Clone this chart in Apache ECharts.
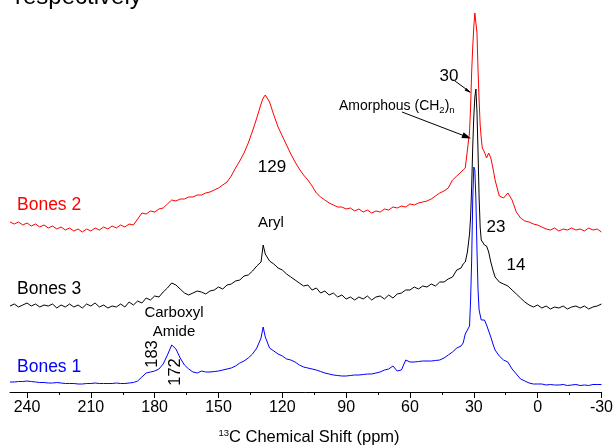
<!DOCTYPE html>
<html>
<head>
<meta charset="utf-8">
<script src="https://cdn.jsdelivr.net/npm/echarts@6/dist/echarts.min.js"></script>
<style>
html,body{margin:0;padding:0;background:#fff;overflow:hidden;}
#chart{width:616px;height:447px;}
</style>
</head>
<body>
<div id="chart"></div>
<script>
// Chemical shift grid (ppm)
var shiftPpm = [
 248,246,244,242,240,238,236,234,232,230,228,226,224,222,220,218,216,214,212,210,
 208,206,204,202,200,198,196,194,192,190,188,186,184,182,180,178,176,174,172,170,
 168,166,164,162,160,158,156,154,152,150,148,146,144,142,140,138,136,134,132,130,
 129,128,126,124,122,120,118,116,114,112,110,108,106,104,102,100,98,96,94,92,
 90,88,86,84,82,80,78,76,74,72,70,68,66,64,62,60,58,56,54,52,
 50,48,46,44,42,
 40,38,36,35,34,33,32,31.5,31,30.5,30,29.5,29,28.5,28,27.5,27,26.5,26,25,24,23,22,21,20,
 18,16,14,12,10,8,6,4,2,0,-2,-4,-6,-8,-10,-12,-14,-16,-18,-20,-22,-24,-26,-28,-30
];
// Bones 1 intensity (blue)
var bones1 = [
 10,10,10.5,10.5,11,10.5,10,9.5,9.5,9,9,9.5,9,8.5,8.5,8.5,8,8,8.5,8.5,
 9,8.5,8.5,8.5,8.5,9,8.5,8.5,9,9.5,11,15,19,20,21,23,28,37,47,43,
 34,27,23,20,19,21,20,20,20.5,21,22,23,24,26,29,31,34,38,44,54,
 65,55,44,41,38,36,33,32,30,27,25,24,23,22,20.5,19,18,17,16.5,16,
 16,16.5,17,17,17.5,18,18,19,20,22,23,26,21,22,32,30,30,30.5,31,31,
 31,31.5,32,34,37,
 40,44,46,49,58,62,66,92,132,192,225,222,192,142,102,82,77,72,70,72,67,61,55,48,42,
 36,32,30,23,18,13,11,9,8,8,8,7,7.5,7,7,7.5,6.5,7,7.5,6.5,7,6.5,7.5,7.5,7.5
];
// Bones 3 intensity (black)
var bones3 = [
 6,8,5,7,9,6,8,5,7,6,8,4,7,5,8,5,7,4,8,6,
 9,5,7,4,6,5,8,5,10,7,11,9,14,12,16,15,20,24,29,27,
 23,19,17,19,21,20,18,21,22,25,23,27,28,31,32,36,37,41,46,50,
 67,58,51,48,44,42,38,35,32,29,26,27,22,24,19,21,17,19,15,17,
 13,15,12,15,13,16,12,15,16,13,17,14,18,19,22,22,25,23,26,25,
 28,26,30,30,33,
 35,42,44,48,50,60,78,95,125,165,195,215,223,200,160,115,85,72,70,67,66,60,50,42,35,
 30,28,26,22,18,14,10,7,5,7,4,6,3,5,4,6,3,5,6,4,6,3,5,6,8
];
// Bones 2 intensity (red)
var bones2 = [
 10,8,10,7,9,6,8,5,7,4,6,3,5,2,4,1,3,0,3,1,
 4,2,5,3,6,4,7,5,8,7,13,19,18,21,20,23,24,28,32,31,
 33,33,35,35,37,37,39,40,42,44,47,50,56,64,71,79,89,101,114,128,
 134,137,130,117,105,96,87,78,70,63,57,52,46,39,35,32,29,27,25,25,
 23,24,21,23,20,22,19,21,20,23,22,25,24,26,25,28,27,29,30,31,
 33,36,39,41,44,
 52,56,60,62,64,82,100,125,160,185,205,219,217,199,162,132,107,94,84,80,74,79,74,64,52,
 36,34,39,32,20,14,11,10,8,7,5,3,2,4,1,3,2,4,2,3,1,4,2,3,0
];
var traceNames = ['Bones 2', 'Bones 3', 'Bones 1'];
var traceColors = ['#ff0000', '#000000', '#0000ff'];
var traceOffsets = [160, 80, 0];
var majorTicks = [240,210,180,150,120,90,60,30,0,-30];
var minorTicks = [225,195,165,135,105,75,45,15,-15];

var FONT = '"Liberation Sans", Arial, Helvetica, sans-serif';
var traces = [bones2, bones3, bones1];

function build(vals, off) {
  return shiftPpm.map(function (p, i) { return [p, vals[i] + off]; });
}

var chart = echarts.init(document.getElementById('chart'), null, {renderer: 'canvas'});

var series = traces.map(function (vals, k) {
  return {
    name: traceNames[k],
    type: 'line',
    xAxisIndex: 0,
    data: build(vals, traceOffsets[k]),
    showSymbol: false,
    symbol: 'none',
    lineStyle: {color: traceColors[k], width: 1},
    itemStyle: {color: traceColors[k]},
    z: 2 + k,
    silent: true
  };
});

function txt(text, x, y, opts) {
  opts = opts || {};
  return {
    type: 'text',
    x: x, y: y,
    rotation: opts.rotation || 0,
    z: 100,
    style: {
      text: text,
      fill: opts.color || '#000',
      font: (opts.size || 16) + 'px ' + FONT,
      align: opts.align || 'center',
      verticalAlign: opts.valign || 'middle'
    }
  };
}

var graphics = [
  txt('respectively', 15, 9, {size: 24, align: 'left', valign: 'bottom'}),
  txt('Bones 2', 17, 205, {size: 17.5, align: 'left', color: '#ff0000'}),
  txt('Bones 3', 17, 289, {size: 17.5, align: 'left'}),
  txt('Bones 1', 17, 367, {size: 17.5, align: 'left', color: '#0000ff'}),
  txt('Carboxyl', 174, 313, {size: 15}),
  txt('Amide', 174, 332, {size: 15}),
  txt('183', 152, 354, {size: 16.5, rotation: Math.PI / 2}),
  txt('172', 175, 372, {size: 16.5, rotation: Math.PI / 2}),
  txt('Aryl', 271, 223, {size: 15}),
  txt('129', 272, 167, {size: 17}),
  txt('30', 449, 76, {size: 17}),
  txt('23', 496, 227, {size: 17}),
  txt('14', 516, 265, {size: 17}),
  {
    type: 'text', x: 339, y: 107, z: 100,
    style: {
      text: '{m|Amorphous (CH}{s|2}{m|)}{s|n}',
      align: 'left', verticalAlign: 'middle', fill: '#000',
      rich: {
        m: {fontSize: 14, fontFamily: FONT, fill: '#000', verticalAlign: 'top', lineHeight: 16},
        s: {fontSize: 9.5, fontFamily: FONT, fill: '#000', verticalAlign: 'bottom', lineHeight: 10, padding: [8, 0, 0, 0]}
      }
    }
  },
  {
    type: 'text', x: 309, y: 437, z: 100,
    style: {
      text: '{s|13}{m|C Chemical Shift (ppm)}',
      align: 'center', verticalAlign: 'middle', fill: '#000',
      rich: {
        s: {fontSize: 9.5, fontFamily: FONT, fill: '#000', verticalAlign: 'top', lineHeight: 10},
        m: {fontSize: 16.5, fontFamily: FONT, fill: '#000', verticalAlign: 'bottom', lineHeight: 18}
      }
    }
  },
  // arrow from "30"
  {type: 'line', z: 100, shape: {x1: 455, y1: 81, x2: 470, y2: 92}, style: {stroke: '#000', lineWidth: 1}},
  {type: 'polygon', z: 100, shape: {points: [[471, 93], [464.6, 90.4], [466.4, 87.9]]}, style: {fill: '#000'}},
  // arrow from Amorphous
  {type: 'line', z: 100, shape: {x1: 402, y1: 112, x2: 466, y2: 136.5}, style: {stroke: '#000', lineWidth: 1}},
  {type: 'polygon', z: 100, shape: {points: [[471, 138.5], [461.4, 137.9], [463.6, 132.3]]}, style: {fill: '#000'}}
];

chart.setOption({
  animation: false,
  backgroundColor: '#fff',
  grid: {left: 10, right: 10, top: 0, bottom: 55, containLabel: false},
  xAxis: [{
    type: 'value', min: -30, max: 248, interval: 30, inverse: true, position: 'bottom',
    axisLine: {show: true, lineStyle: {color: '#000', width: 1}},
    axisTick: {show: true, inside: false, length: 6, customValues: majorTicks, lineStyle: {color: '#000', width: 1}},
    axisLabel: {show: true, customValues: majorTicks, fontSize: 16, fontFamily: FONT, color: '#000', margin: 8,
      formatter: function (v) { return String(v); }},
    splitLine: {show: false},
    minorTick: {show: false}
  }, {
    type: 'value', min: -30, max: 248, interval: 15, inverse: true, position: 'bottom',
    axisLine: {show: false},
    axisTick: {show: true, inside: false, length: 3, customValues: minorTicks, lineStyle: {color: '#000', width: 1}},
    axisLabel: {show: false},
    splitLine: {show: false}
  }],
  yAxis: {type: 'value', min: 0, max: 392, show: false, splitLine: {show: false}},
  series: series,
  graphic: graphics
});
</script>
</body>
</html>
